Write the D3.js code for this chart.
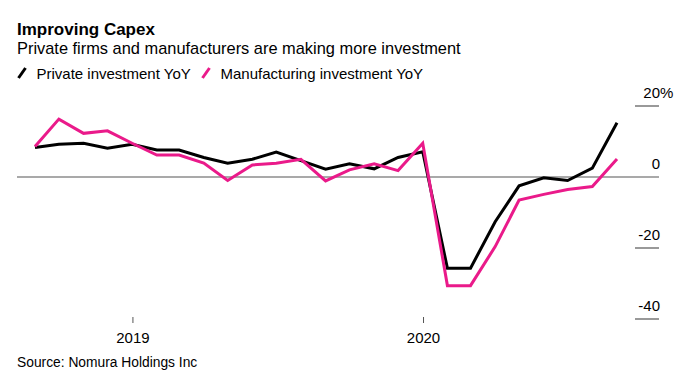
<!DOCTYPE html>
<html><head><meta charset="utf-8">
<script src="https://cdn.jsdelivr.net/npm/d3@7"></script>
<style>
html,body{margin:0;padding:0;background:#fff;}
text{font-family:"Liberation Sans",Arial,Helvetica,sans-serif;}
</style></head>
<body><svg id="c" width="680" height="374"></svg>
<script>
const months = ["2018-08","2018-09","2018-10","2018-11","2018-12",
  "2019-01","2019-02","2019-03","2019-04","2019-05","2019-06","2019-07","2019-08","2019-09","2019-10","2019-11","2019-12",
  "2020-01","2020-02","2020-03","2020-04","2020-05","2020-06","2020-07","2020-08"];
const privateInv = [8.3,9.2,9.5,8.1,9.2,7.6,7.6,5.5,3.9,5.0,7.0,4.6,2.2,3.7,2.3,5.5,7.1,-25.7,-25.7,-12.6,-2.5,-0.2,-1.0,2.5,15.3];
const manufInv   = [8.6,16.3,12.3,13.0,9.5,6.2,6.2,3.9,-1.0,3.4,3.9,5.0,-1.1,2.0,3.7,1.8,9.5,-30.6,-30.6,-19.6,-6.5,-4.9,-3.5,-2.7,5.1];
const yTicks = [20,0,-20,-40];
const xTickYears = [2019,2020];

const svg = d3.select("#c");
const parse = s => { const [y,m] = s.split("-").map(Number); return new Date(y, m, 0); };
const dates = months.map(parse);

const x = d3.scaleTime().domain(d3.extent(dates)).range([35,617]);
const y = d3.scaleLinear().domain([-40,20]).range([319,106]);

// title
svg.append("text").attr("x",17).attr("y",35).attr("font-size",17).attr("font-weight","bold").attr("fill","#000").text("Improving Capex");
svg.append("text").attr("x",17).attr("y",54).attr("font-size",16.4).attr("fill","#000").text("Private firms and manufacturers are making more investment");

// legend
const leg = [{t:"Private investment YoY",c:"#000",x:17},{t:"Manufacturing investment YoY",c:"#ea1a8a",x:201}];
leg.forEach(l=>{
  svg.append("line").attr("x1",l.x+1.5).attr("y1",78).attr("x2",l.x+8.5).attr("y2",68).attr("stroke",l.c).attr("stroke-width",3);
  svg.append("text").attr("x",l.x+19.5).attr("y",78.5).attr("font-size",15).attr("fill","#000").text(l.t);
});

// y ticks
yTicks.forEach(v=>{
  const yy = y(v);
  if (v===0) {
    svg.append("line").attr("x1",17).attr("x2",659).attr("y1",yy).attr("y2",yy).attr("stroke","#555").attr("stroke-width",1.2);
  } else {
    svg.append("line").attr("x1",635).attr("x2",659).attr("y1",yy).attr("y2",yy).attr("stroke","#555").attr("stroke-width",1.2);
  }
  svg.append("text").attr("x",660).attr("y",yy-8.5).attr("text-anchor","end").attr("font-size",15).attr("fill","#000").text(v);
  if (v===20) svg.append("text").attr("x",660).attr("y",yy-8.5).attr("font-size",15).attr("fill","#000").text("%");
});

// x ticks
xTickYears.forEach(yr=>{
  const xx = x(new Date(yr,0,1));
  svg.append("line").attr("x1",xx).attr("x2",xx).attr("y1",317).attr("y2",323).attr("stroke","#555").attr("stroke-width",1);
  svg.append("text").attr("x",xx).attr("y",343).attr("text-anchor","middle").attr("font-size",15).attr("fill","#000").text(yr);
});

// lines
const line = d3.line().x((d,i)=>x(dates[i])).y(d=>y(d));
svg.append("path").attr("d",line(privateInv)).attr("fill","none").attr("stroke","#000").attr("stroke-width",3).attr("stroke-linejoin","miter");
svg.append("path").attr("d",line(manufInv)).attr("fill","none").attr("stroke","#ea1a8a").attr("stroke-width",3).attr("stroke-linejoin","miter");

// source
svg.append("text").attr("x",17).attr("y",367).attr("font-size",13.8).attr("fill","#000").text("Source: Nomura Holdings Inc");
</script></body></html>
